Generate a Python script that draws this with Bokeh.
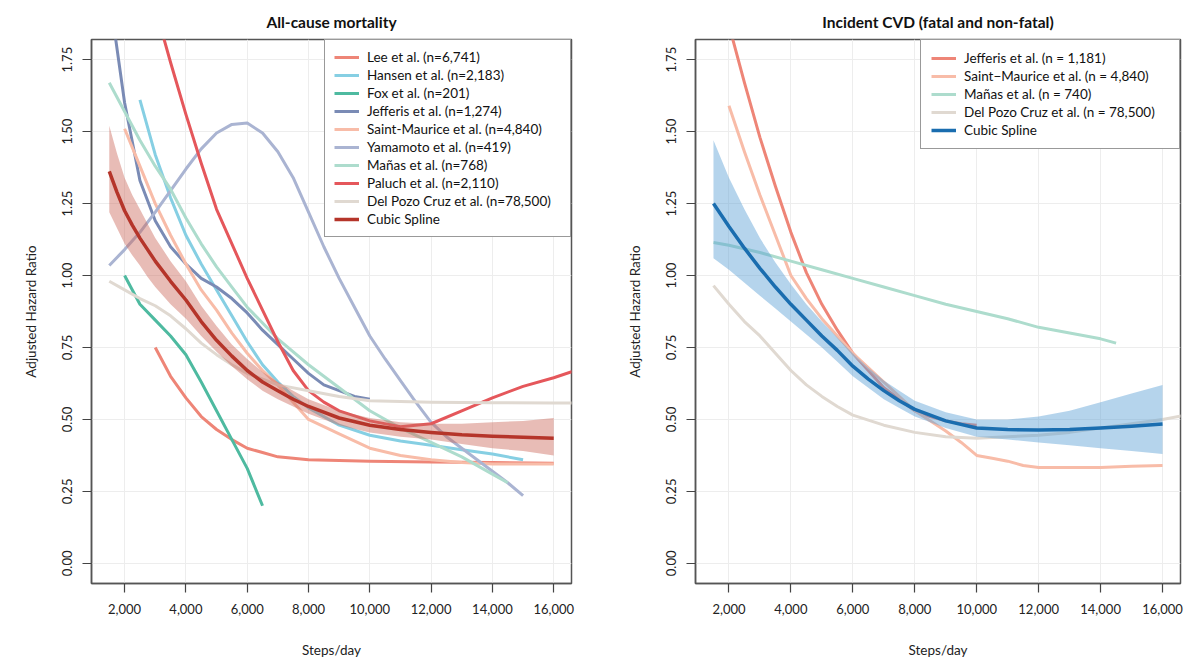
from bokeh.plotting import figure
from bokeh.layouts import row
from bokeh.models import (Range1d, FixedTicker, NumeralTickFormatter, Legend, LegendItem)
from bokeh.embed import file_html
from bokeh.resources import INLINE

FONT = "Lato"

# ---------------- Left panel: All-cause mortality ----------------
lee_x = [3000, 3500, 4000, 4500, 5000, 5500, 6000, 6500, 7000, 8000, 10000, 12000, 14000, 16000]
lee_y = [0.75, 0.65, 0.575, 0.51, 0.465, 0.43, 0.40, 0.385, 0.37, 0.36, 0.355, 0.352, 0.35, 0.348]

hansen_x = [2500, 3000, 3500, 4000, 4500, 5000, 5500, 6000, 6500, 7000, 7500, 8000, 9000, 10000, 11000, 12000, 13000, 14000, 15000]
hansen_y = [1.61, 1.42, 1.27, 1.14, 1.04, 0.95, 0.86, 0.77, 0.69, 0.63, 0.58, 0.54, 0.48, 0.445, 0.425, 0.41, 0.395, 0.38, 0.36]

fox_x = [2000, 2500, 3000, 3500, 4000, 4500, 5000, 5500, 6000, 6500]
fox_y = [1.00, 0.90, 0.845, 0.79, 0.725, 0.63, 0.53, 0.43, 0.33, 0.20]

jeff_x = [1500, 2000, 2500, 3000, 3500, 4000, 4500, 5000, 5500, 6000, 6500, 7000, 7500, 8000, 8500, 9000, 9500, 10000]
jeff_y = [1.98, 1.60, 1.33, 1.19, 1.10, 1.04, 0.99, 0.96, 0.92, 0.87, 0.81, 0.76, 0.71, 0.66, 0.62, 0.60, 0.58, 0.57]

sm_x = [2000, 2500, 3000, 3500, 4000, 4500, 5000, 5500, 6000, 6500, 7000, 7500, 8000, 9000, 10000, 11000, 12000, 13000, 14000, 15000, 16000]
sm_y = [1.51, 1.38, 1.25, 1.14, 1.04, 0.95, 0.88, 0.80, 0.73, 0.67, 0.62, 0.56, 0.50, 0.45, 0.40, 0.375, 0.36, 0.35, 0.345, 0.345, 0.345]

yama_x = [1500, 2000, 2500, 3000, 3500, 4000, 4500, 5000, 5500, 6000, 6500, 7000, 7500, 8000, 8500, 9000, 9500,
          10000, 10500, 11000, 11500, 12000, 12500, 13000, 13500, 14000, 14500, 15000]
yama_y = [1.035, 1.09, 1.15, 1.22, 1.295, 1.37, 1.44, 1.495, 1.525, 1.53, 1.495, 1.43, 1.34, 1.22, 1.10, 0.99, 0.89,
          0.79, 0.71, 0.635, 0.56, 0.49, 0.44, 0.40, 0.36, 0.32, 0.28, 0.235]

manas_x = [1500, 2000, 2500, 3000, 3500, 4000, 4500, 5000, 5500, 6000, 7000, 8000, 9000, 10000, 11000, 12000, 13000, 14000, 14500]
manas_y = [1.67, 1.57, 1.47, 1.38, 1.30, 1.20, 1.11, 1.03, 0.96, 0.89, 0.78, 0.69, 0.61, 0.53, 0.47, 0.42, 0.37, 0.31, 0.28]

paluch_x = [3000, 3500, 4000, 4500, 5000, 5500, 6000, 6500, 7000, 7500, 8000, 8500, 9000, 10000, 11000, 12000, 13000, 14000, 15000, 16000, 17000]
paluch_y = [1.93, 1.74, 1.56, 1.39, 1.23, 1.11, 0.99, 0.88, 0.77, 0.67, 0.60, 0.56, 0.53, 0.495, 0.475, 0.485, 0.53, 0.575, 0.615, 0.645, 0.68]

dpc_x = [1500, 2000, 2500, 3000, 3500, 4000, 4500, 5000, 5500, 6000, 7000, 8000, 9000, 10000, 12000, 14000, 16000, 17000]
dpc_y = [0.98, 0.95, 0.92, 0.895, 0.86, 0.815, 0.765, 0.725, 0.69, 0.66, 0.62, 0.60, 0.58, 0.565, 0.56, 0.558, 0.557, 0.557]

spl_x = [1500, 1750, 2000, 2250, 2500, 2750, 3000, 3500, 4000, 4500, 5000, 5500, 6000, 6500, 7000, 7500, 8000, 9000,
         10000, 11000, 12000, 13000, 14000, 15000, 16000]
spl_y = [1.362, 1.29, 1.225, 1.175, 1.13, 1.09, 1.05, 0.98, 0.915, 0.84, 0.775, 0.72, 0.67, 0.63, 0.60, 0.57, 0.545, 0.505,
         0.48, 0.465, 0.455, 0.447, 0.442, 0.438, 0.435]
spl_lo = [1.22, 1.165, 1.11, 1.07, 1.035, 0.995, 0.96, 0.90, 0.85, 0.79, 0.735, 0.685, 0.64, 0.60, 0.57, 0.545, 0.52, 0.48,
          0.455, 0.44, 0.43, 0.415, 0.40, 0.39, 0.375]
spl_hi = [1.52, 1.425, 1.34, 1.28, 1.23, 1.18, 1.13, 1.05, 0.98, 0.895, 0.825, 0.76, 0.71, 0.665, 0.63, 0.60, 0.57, 0.53,
          0.505, 0.49, 0.485, 0.485, 0.49, 0.495, 0.505]

# ---------------- Right panel: Incident CVD ----------------
cj_x = [1500, 2000, 2500, 3000, 3500, 4000, 4500, 5000, 5500, 6000, 6500, 7000, 7500, 8000, 8500, 9000, 9500, 10000]
cj_y = [2.10, 1.87, 1.67, 1.48, 1.31, 1.15, 1.01, 0.90, 0.81, 0.73, 0.67, 0.61, 0.57, 0.53, 0.51, 0.495, 0.485, 0.48]

csm_x = [2000, 2500, 3000, 3500, 4000, 4500, 5000, 5500, 6000, 7000, 8000, 9000, 9500, 10000, 10500, 11000, 11500, 12000, 13000, 14000, 15000, 16000]
csm_y = [1.59, 1.43, 1.28, 1.14, 1.00, 0.92, 0.85, 0.79, 0.73, 0.63, 0.53, 0.46, 0.42, 0.375, 0.365, 0.355, 0.34, 0.333, 0.333, 0.333, 0.337, 0.34]

cma_x = [1500, 2000, 3000, 4000, 5000, 6000, 7000, 8000, 9000, 10000, 11000, 12000, 13000, 14000, 14500]
cma_y = [1.115, 1.105, 1.08, 1.05, 1.02, 0.99, 0.96, 0.93, 0.90, 0.875, 0.85, 0.82, 0.80, 0.78, 0.765]

cdp_x = [1500, 2000, 2500, 3000, 3500, 4000, 4500, 5000, 5500, 6000, 7000, 8000, 9000, 10000, 11000, 12000, 13000, 14000, 15000, 16000, 17000]
cdp_y = [0.965, 0.90, 0.84, 0.79, 0.73, 0.67, 0.62, 0.58, 0.545, 0.515, 0.48, 0.455, 0.44, 0.435, 0.44, 0.445, 0.455, 0.47, 0.485, 0.50, 0.52]

cspl_x = [1500, 2000, 2500, 3000, 3500, 4000, 4500, 5000, 5500, 6000, 6500, 7000, 7500, 8000, 9000, 10000, 11000, 12000, 13000, 14000, 15000, 16000]
cspl_y = [1.25, 1.17, 1.095, 1.025, 0.96, 0.90, 0.845, 0.79, 0.74, 0.685, 0.64, 0.60, 0.565, 0.535, 0.495, 0.47, 0.465, 0.463, 0.465, 0.47, 0.476, 0.484]
cspl_lo = [1.06, 1.02, 0.975, 0.93, 0.885, 0.84, 0.795, 0.75, 0.70, 0.65, 0.61, 0.57, 0.54, 0.51, 0.47, 0.44, 0.43, 0.42, 0.41, 0.40, 0.39, 0.38]
cspl_hi = [1.47, 1.34, 1.23, 1.13, 1.045, 0.97, 0.90, 0.84, 0.785, 0.73, 0.68, 0.635, 0.60, 0.565, 0.525, 0.50, 0.50, 0.51, 0.53, 0.56, 0.59, 0.62]

x_ticks = [2000, 4000, 6000, 8000, 10000, 12000, 14000, 16000]
y_ticks = [0.0, 0.25, 0.5, 0.75, 1.0, 1.25, 1.5, 1.75]

left_series = [
    ("Lee et al. (n=6,741)", lee_x, lee_y, "#EE8577"),
    ("Hansen et al. (n=2,183)", hansen_x, hansen_y, "#86CFE3"),
    ("Fox et al. (n=201)", fox_x, fox_y, "#4EBAA0"),
    ("Jefferis et al. (n=1,274)", jeff_x, jeff_y, "#7A8BB5"),
    ("Saint-Maurice et al. (n=4,840)", sm_x, sm_y, "#F8BCA8"),
    ("Yamamoto et al. (n=419)", yama_x, yama_y, "#AAB4D2"),
    ("Mañas et al. (n=768)", manas_x, manas_y, "#ADDCCD"),
    ("Paluch et al. (n=2,110)", paluch_x, paluch_y, "#E5575B"),
    ("Del Pozo Cruz et al. (n=78,500)", dpc_x, dpc_y, "#E0D9D1"),
]
right_series = [
    ("Jefferis et al. (n = 1,181)", cj_x, cj_y, "#EE8577"),
    ("Saint\u2212Maurice et al. (n = 4,840)", csm_x, csm_y, "#F8BCA8"),
    ("Mañas et al. (n = 740)", cma_x, cma_y, "#ADDCCD"),
    ("Del Pozo Cruz et al. (n = 78,500)", cdp_x, cdp_y, "#E0D9D1"),
]


def make_panel(title, series, sx, sy, slo, shi, scol, bandcol, bl, br, fw, lab_w, leg_pad):
    p = figure(width=bl + fw + br, height=662, output_backend="svg", toolbar_location=None,
               x_range=Range1d(920, 16580), y_range=Range1d(-0.07, 1.82),
               min_border_left=bl, min_border_right=br, min_border_top=39, min_border_bottom=79)
    p.title.text = title
    p.title.align = "center"
    p.title.text_font = FONT
    p.title.text_font_size = "15.5px"
    p.title.text_font_style = "bold"
    p.title.text_color = "#111111"
    p.title.standoff = 17
    p.outline_line_color = "#555555"
    p.outline_line_width = 1.5
    p.background_fill_color = "white"
    p.border_fill_color = "white"
    for g in (p.xgrid, p.ygrid):
        g.grid_line_color = "#EDEDED"
        g.grid_line_width = 1
    p.xaxis.ticker = FixedTicker(ticks=x_ticks)
    p.yaxis.ticker = FixedTicker(ticks=y_ticks)
    p.xaxis.formatter = NumeralTickFormatter(format="0,0")
    p.yaxis.formatter = NumeralTickFormatter(format="0.00")
    p.xaxis.axis_label = "Steps/day"
    p.yaxis.axis_label = "Adjusted Hazard Ratio"
    p.yaxis.major_label_orientation = "vertical"
    for ax in (p.xaxis, p.yaxis):
        ax.axis_line_color = "#555555"
        ax.axis_line_width = 1.5
        ax.major_tick_out = 9
        ax.major_tick_in = 0
        ax.major_tick_line_color = "#444444"
        ax.major_tick_line_width = 1.2
        ax.minor_tick_line_color = None
        ax.major_label_text_font = FONT
        ax.major_label_text_font_size = "13px"
        ax.major_label_text_color = "#222222"
        ax.axis_label_text_font = FONT
        ax.axis_label_text_font_size = "13.5px"
        ax.axis_label_text_font_style = "normal"
        ax.axis_label_text_color = "#222222"
    p.xaxis.major_label_standoff = 11
    p.xaxis.axis_label_standoff = 25
    p.yaxis.major_label_standoff = 10
    p.yaxis.axis_label_standoff = 21

    items = []
    for name, xs, ys, col in series:
        r = p.line(xs, ys, line_color=col, line_width=3, line_join="round")
        items.append(LegendItem(label=name, renderers=[r]))
    p.varea(x=sx, y1=slo, y2=shi, fill_color=bandcol, fill_alpha=0.45)
    rs = p.line(sx, sy, line_color=scol, line_width=3.5, line_join="round")
    items.append(LegendItem(label="Cubic Spline", renderers=[rs]))

    leg = Legend(items=items, location="top_right")
    leg.margin = 0
    leg.padding = leg_pad
    leg.spacing = 2
    leg.label_height = 16
    leg.label_width = lab_w
    leg.glyph_height = 16
    leg.glyph_width = 25
    leg.label_standoff = 8
    leg.label_text_font = FONT
    leg.label_text_font_size = "13.5px"
    leg.label_text_color = "#111111"
    leg.border_line_color = "#333333"
    leg.border_line_width = 1.5
    leg.background_fill_color = "white"
    leg.background_fill_alpha = 1.0
    p.add_layout(leg, "center")
    return p


p1 = make_panel("All-cause mortality", left_series, spl_x, spl_y, spl_lo, spl_hi,
                "#B5352A", "#CC6A5E", 91, 24, 480, 194, 9)
p2 = make_panel("Incident CVD (fatal and non-fatal)", right_series, cspl_x, cspl_y, cspl_lo, cspl_hi,
                "#1A6DAF", "#5A9FD4", 100, 10, 485, 205, 10)

layout = row(p1, p2)
open("out.html", "w").write(file_html(layout, INLINE))
